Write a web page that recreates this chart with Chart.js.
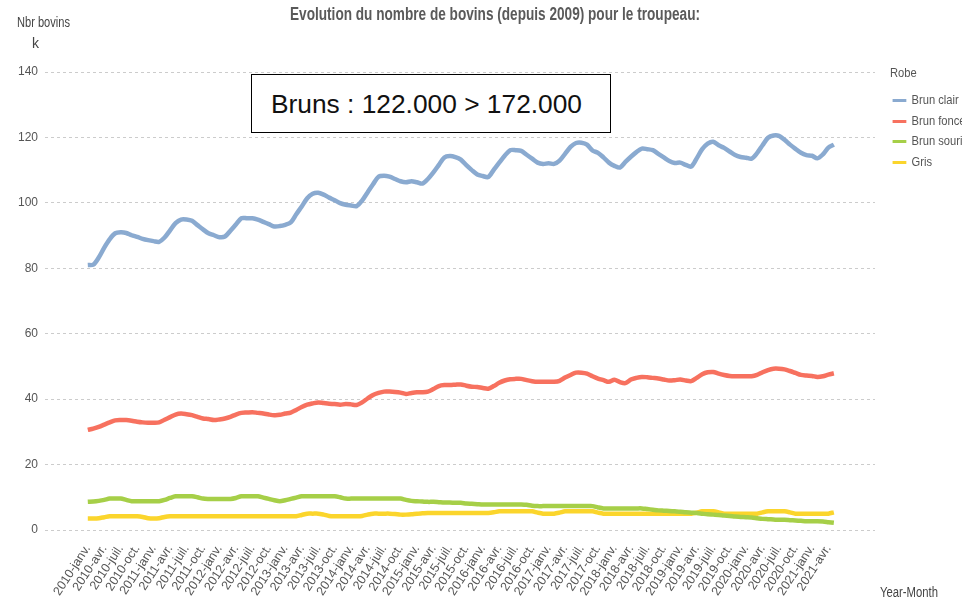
<!DOCTYPE html>
<html>
<head>
<meta charset="utf-8">
<script src="https://cdn.jsdelivr.net/npm/chart.js@4"></script>
<style>
  html, body { margin: 0; padding: 0; background: #fff; overflow: hidden; }
  #wrap { position: relative; width: 962px; height: 601px; }
  #chart { position: absolute; left: 0; top: 0; }
  .lbl { position: absolute; font-family: "Liberation Sans", Arial, sans-serif; white-space: nowrap; transform-origin: 0 0; }
  #title { left: 290px; top: 4px; font-size: 18px; font-weight: bold; color: #5a5a5a; }
  #ytitle1 { left: 17px; top: 14px; font-size: 14px; color: #444; }
  #ytitle2 { left: 32px; top: 35px; font-size: 14px; color: #444; }
  #xtitle { left: 880px; top: 584px; font-size: 14px; color: #444; }
  #note { position: absolute; left: 251px; top: 74px; width: 339px; height: 57px; border: 1.5px solid #000; background: #fff;
          font-family: "Liberation Sans", "Open Sans", sans-serif; font-size: 25px; color: #111; line-height: 58px; padding-left: 19px; }
  #note span { display: inline-block; transform-origin: 0 50%; }
  #legend { left: 890px; top: 63px; font-size: 13px; color: #555; transform: scaleX(0.86); }
  #legend .head { height: 20px; line-height: 20px; margin-bottom: 7px; }
  #legend .item { height: 20.5px; line-height: 20.5px; }
  #legend .sw { display: inline-block; width: 16px; height: 3px; vertical-align: middle; margin-right: 6px; margin-left: 3px; }
</style>
</head>
<body>
<div id="wrap">
  <canvas id="chart" width="962" height="601"></canvas>
  <div id="title" class="lbl">Evolution du nombre de bovins (depuis 2009) pour le troupeau:</div>
  <div id="ytitle1" class="lbl">Nbr bovins</div>
  <div id="ytitle2" class="lbl">k</div>
  <div id="xtitle" class="lbl">Year-Month</div>
  <div id="note"><span>Bruns : 122.000 &gt; 172.000</span></div>
  <div id="legend" class="lbl"></div>
</div>
<script>
// quarterly tick labels (one every 3 months, starting 2010-janv.)
var quarterLabels = [
  '2010-janv.', '2010-avr.', '2010-juil.', '2010-oct.',
  '2011-janv.', '2011-avr.', '2011-juil.', '2011-oct.',
  '2012-janv.', '2012-avr.', '2012-juil.', '2012-oct.',
  '2013-janv.', '2013-avr.', '2013-juil.', '2013-oct.',
  '2014-janv.', '2014-avr.', '2014-juil.', '2014-oct.',
  '2015-janv.', '2015-avr.', '2015-juil.', '2015-oct.',
  '2016-janv.', '2016-avr.', '2016-juil.', '2016-oct.',
  '2017-janv.', '2017-avr.', '2017-juil.', '2017-oct.',
  '2018-janv.', '2018-avr.', '2018-juil.', '2018-oct.',
  '2019-janv.', '2019-avr.', '2019-juil.', '2019-oct.',
  '2020-janv.', '2020-avr.', '2020-juil.', '2020-oct.',
  '2021-janv.', '2021-avr.'
];

var yTicks = [0, 20, 40, 60, 80, 100, 120, 140];

// monthly values (thousands), 2010-janv. to 2021-mai
var brunClair = [
  81.0, 81.1, 83.3, 86.3, 88.9, 90.7, 91.0, 90.8, 90.1, 89.6, 89.0, 88.6,
  88.3, 88.1, 89.4, 91.6, 93.8, 94.9, 94.9, 94.5, 93.2, 91.9, 90.7, 90.1,
  89.5, 89.7, 91.5, 93.4, 95.3, 95.3, 95.3, 94.9, 94.2, 93.5, 92.8, 92.9,
  93.3, 94.0, 96.5, 98.9, 101.4, 102.8, 103.1, 102.5, 101.6, 100.8, 99.9, 99.4,
  99.2, 99.0, 100.7, 103.2, 105.7, 108.0, 108.3, 108.0, 107.3, 106.6, 106.3, 106.6,
  106.3, 105.9, 107.3, 109.3, 111.6, 113.9, 114.3, 114.0, 113.2, 111.5, 110.0, 108.7,
  108.2, 107.9, 110.1, 112.3, 114.4, 116.1, 116.1, 115.9, 114.7, 113.5, 112.3, 111.9,
  112.1, 111.9, 112.9, 115.0, 117.1, 118.3, 118.4, 117.8, 116.0, 115.3, 113.9, 112.3,
  111.3, 110.8, 112.5, 114.1, 115.5, 116.6, 116.4, 116.1, 115.0, 113.9, 112.8, 112.2,
  112.3, 111.6, 111.1, 113.6, 116.4, 118.1, 118.7, 117.6, 116.8, 115.7, 114.6, 114.0,
  113.8, 113.5, 115.2, 117.6, 119.9, 120.6, 120.5, 119.3, 117.8, 116.5, 115.3, 114.6,
  114.4, 113.6, 114.8, 116.9, 117.8
];
var brunFonce = [
  30.6, 31.0, 31.5, 32.2, 32.9, 33.5, 33.6, 33.6, 33.4, 33.1, 32.9, 32.8,
  32.8, 32.9, 33.7, 34.5, 35.3, 35.6, 35.4, 35.1, 34.6, 34.1, 33.9, 33.6,
  33.8, 34.1, 34.6, 35.3, 35.8, 35.9, 36.0, 35.8, 35.6, 35.3, 35.1, 35.2,
  35.6, 35.9, 36.7, 37.6, 38.3, 38.7, 39.0, 38.8, 38.6, 38.5, 38.3, 38.5,
  38.4, 38.2, 39.0, 40.2, 41.3, 41.9, 42.3, 42.3, 42.2, 42.0, 41.6, 41.9,
  42.1, 42.1, 42.3, 43.1, 44.0, 44.3, 44.3, 44.4, 44.5, 44.1, 43.8, 43.7,
  43.4, 43.2, 44.0, 45.0, 45.7, 46.1, 46.2, 46.2, 45.8, 45.5, 45.3, 45.3,
  45.3, 45.3, 45.6, 46.6, 47.4, 48.1, 48.1, 47.8, 47.0, 46.3, 45.8, 45.3,
  45.9, 45.2, 44.9, 46.0, 46.5, 46.8, 46.7, 46.5, 46.3, 46.0, 45.7, 45.8,
  46.0, 45.7, 45.5, 46.5, 47.6, 48.2, 48.3, 47.8, 47.4, 47.1, 47.0, 47.0,
  47.0, 47.0, 47.4, 48.2, 48.9, 49.3, 49.3, 49.1, 48.6, 48.0, 47.4, 47.2,
  47.1, 46.8, 47.0, 47.5, 47.9
];
var brunSouris = [
  8.6, 8.7, 8.9, 9.2, 9.6, 9.6, 9.6, 9.2, 8.8, 8.8, 8.8, 8.8,
  8.8, 8.8, 9.2, 9.8, 10.3, 10.3, 10.3, 10.3, 10.0, 9.6, 9.5, 9.5,
  9.5, 9.5, 9.5, 9.8, 10.3, 10.3, 10.3, 10.3, 9.9, 9.5, 9.1, 8.8,
  9.1, 9.5, 9.9, 10.3, 10.3, 10.3, 10.3, 10.3, 10.3, 10.3, 10.0, 9.6,
  9.6, 9.6, 9.6, 9.6, 9.6, 9.6, 9.6, 9.6, 9.6, 9.6, 9.2, 8.9,
  8.8, 8.7, 8.6, 8.6, 8.5, 8.4, 8.4, 8.3, 8.3, 8.1, 8.0, 7.9,
  7.8, 7.8, 7.8, 7.8, 7.8, 7.8, 7.8, 7.8, 7.7, 7.4, 7.3, 7.3,
  7.3, 7.3, 7.3, 7.3, 7.3, 7.3, 7.3, 7.3, 7.3, 6.9, 6.6, 6.6,
  6.6, 6.6, 6.6, 6.6, 6.6, 6.6, 6.4, 6.2, 6.0, 5.9, 5.8, 5.7,
  5.6, 5.4, 5.3, 5.2, 5.0, 4.8, 4.7, 4.6, 4.4, 4.3, 4.1, 4.0,
  3.9, 3.8, 3.6, 3.4, 3.3, 3.2, 3.1, 3.1, 3.0, 2.9, 2.8, 2.7,
  2.7, 2.7, 2.6, 2.4, 2.2
];
var gris = [
  3.5, 3.5, 3.6, 3.9, 4.2, 4.2, 4.2, 4.2, 4.2, 4.2, 4.0, 3.6,
  3.5, 3.6, 4.0, 4.2, 4.2, 4.2, 4.2, 4.2, 4.2, 4.2, 4.2, 4.2,
  4.2, 4.2, 4.2, 4.2, 4.2, 4.2, 4.2, 4.2, 4.2, 4.2, 4.2, 4.2,
  4.2, 4.2, 4.2, 4.6, 5.0, 5.0, 5.0, 4.7, 4.3, 4.2, 4.2, 4.2,
  4.2, 4.2, 4.3, 4.7, 5.0, 5.0, 5.0, 5.0, 4.9, 4.7, 4.7, 4.8,
  5.0, 5.1, 5.2, 5.2, 5.2, 5.2, 5.2, 5.2, 5.2, 5.2, 5.2, 5.2,
  5.2, 5.2, 5.4, 5.7, 5.7, 5.7, 5.7, 5.7, 5.7, 5.7, 5.3, 5.0,
  5.0, 5.0, 5.3, 5.7, 5.7, 5.7, 5.7, 5.7, 5.7, 5.3, 5.0, 5.0,
  5.0, 5.0, 5.0, 5.0, 5.0, 5.0, 5.0, 5.0, 5.0, 5.0, 5.0, 5.0,
  5.0, 5.0, 5.0, 5.3, 5.7, 5.7, 5.7, 5.4, 5.0, 5.0, 5.0, 5.0,
  5.0, 5.0, 5.0, 5.4, 5.7, 5.7, 5.7, 5.7, 5.4, 5.0, 5.0, 5.0,
  5.0, 5.0, 5.0, 5.0, 5.4
];

var seriesNames = ['Brun clair', 'Brun foncé', 'Brun souris', 'Gris'];
var seriesValues = [brunClair, brunFonce, brunSouris, gris];
var seriesColors = ['#8aaad0', '#f7715f', '#a6cf48', '#fbd52c'];

function toPoints(values) {
  return values.map(function(v, i) { return { x: i, y: v }; });
}

var datasets = [];
for (var i = 0; i < seriesNames.length; i++) {
  datasets.push({
    label: seriesNames[i],
    data: toPoints(seriesValues[i]),
    borderColor: seriesColors[i],
    backgroundColor: seriesColors[i],
    borderWidth: 4.5,
    pointRadius: 0,
    tension: 0.3,
    fill: false
  });
}

var tickFont = { family: '"Liberation Sans", Arial, sans-serif', size: 12 };

new Chart(document.getElementById('chart').getContext('2d'), {
  type: 'line',
  data: { datasets: datasets },
  options: {
    responsive: false,
    animation: false,
    layout: { padding: { top: 72, right: 87, left: 0, bottom: 0 } },
    plugins: { legend: { display: false }, tooltip: { enabled: false } },
    scales: {
      x: {
        type: 'linear',
        min: -7.8,
        max: 143.5,
        grid: { display: false },
        border: { display: false },
        afterBuildTicks: function(scale) {
          scale.ticks = quarterLabels.map(function(l, q) { return { value: q * 3 }; });
        },
        afterFit: function(scale) { scale.height = 71; },
        ticks: {
          autoSkip: false,
          minRotation: 57,
          maxRotation: 57,
          padding: 4,
          color: '#555',
          font: { family: '"Liberation Sans", Arial, sans-serif', size: 12.5 },
          callback: function(value) { return quarterLabels[value / 3] || ''; }
        }
      },
      y: {
        min: 0,
        max: 140,
        afterBuildTicks: function(scale) {
          scale.ticks = yTicks.map(function(v) { return { value: v }; });
        },
        afterFit: function(scale) { scale.width = 45; },
        border: { display: false, dash: [3, 3] },
        grid: { color: '#cccccc', lineWidth: 1, drawTicks: false },
        ticks: { padding: 7, color: '#555', font: tickFont }
      }
    }
  }
});

// legend built from the datasets
var legend = document.getElementById('legend');
var html = '<div class="head">Robe</div>';
for (var k = 0; k < seriesNames.length; k++) {
  html += '<div class="item"><span class="sw" style="background:' + seriesColors[k] + '"></span>' + seriesNames[k] + '</div>';
}
legend.innerHTML = html;

// squeeze the narrow texts to the widths of the original
function fitWidth(el, target) {
  var w = el.getBoundingClientRect().width;
  el.style.transform = 'scaleX(' + (target / w) + ')';
}
fitWidth(document.getElementById('title'), 410);
fitWidth(document.getElementById('ytitle1'), 53);
fitWidth(document.getElementById('xtitle'), 58);
fitWidth(document.querySelector('#note span'), 311);
</script>
</body>
</html>
